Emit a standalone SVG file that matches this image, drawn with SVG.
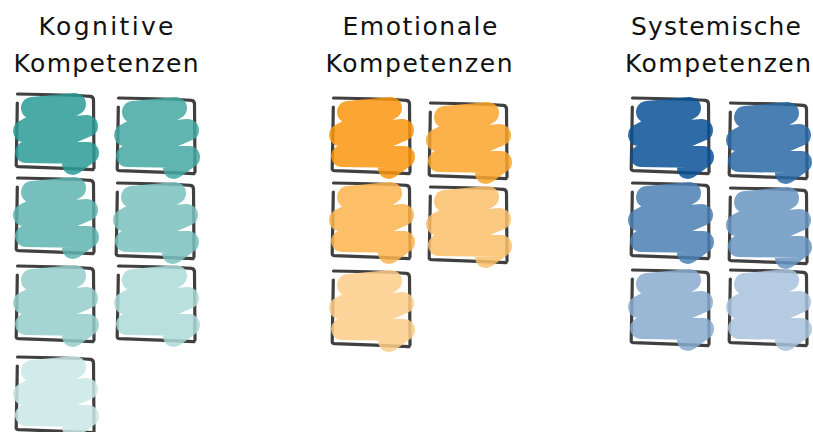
<svg xmlns="http://www.w3.org/2000/svg" xmlns:xlink="http://www.w3.org/1999/xlink" width="813" height="432" viewBox="0 0 813 432">
  <style>
    .title { font-family: "DejaVu Sans", "Noto Sans", sans-serif; font-size: 25px; fill: #111; text-anchor: middle; }
    .frame { fill: none; stroke: #404040; stroke-width: 3.2; stroke-linecap: round; stroke-linejoin: round; }
    .scribble { fill: none; stroke-width: 22; stroke-linecap: round; stroke-linejoin: round; opacity: 0.85; }
  </style>
  <defs>
    <!-- sketchy square outline, drawn as two strokes -->
    <g id="frame">
      <path class="frame" d="M0.5,0 C25,0.4 55,1 73.5,2.3 Q76.5,2.8 76.5,6 L77,74"/>
      <path class="frame" d="M0.3,9 C0,30 -0.3,52 -0.8,71 Q-0.6,72.4 1.5,72.6 C25,73.5 52,74.5 76,75.6"/>
    </g>
    <!-- zigzag scribble fill; colour comes from the using element -->
    <path id="scrib" class="scribble" d="M15,14 L58,10 L7,37 L70,32 L9,58 L71,59 L56,70"/>
  </defs>

  <!-- column titles -->
  <g id="title-kognitiv">
    <text class="title" x="106" y="35" textLength="135" lengthAdjust="spacing">Kognitive</text>
    <text class="title" x="106" y="72" textLength="185" lengthAdjust="spacing">Kompetenzen</text>
  </g>
  <g id="title-emotional">
    <text class="title" x="420" y="35" textLength="155" lengthAdjust="spacing">Emotionale</text>
    <text class="title" x="419" y="72" textLength="187" lengthAdjust="spacing">Kompetenzen</text>
  </g>
  <g id="title-systemisch">
    <text class="title" x="716" y="35" textLength="170" lengthAdjust="spacing">Systemische</text>
    <text class="title" x="718" y="72" textLength="186" lengthAdjust="spacing">Kompetenzen</text>
  </g>

  <!-- cognitive competences -->
  <g id="kog-1" transform="translate(17,94)"><use href="#frame"/><use href="#scrib" stroke="#2a9b96"/></g>
  <g id="kog-2" transform="translate(118,98)"><use href="#frame"/><use href="#scrib" stroke="#44a8a3"/></g>
  <g id="kog-3" transform="translate(17,178)"><use href="#frame"/><use href="#scrib" stroke="#5fb4b1"/></g>
  <g id="kog-4" transform="translate(117,183)"><use href="#frame"/><use href="#scrib" stroke="#79c1be"/></g>
  <g id="kog-5" transform="translate(17,266)"><use href="#frame"/><use href="#scrib" stroke="#94cecb"/></g>
  <g id="kog-6" transform="translate(118,266)"><use href="#frame"/><use href="#scrib" stroke="#aed9d9"/></g>
  <g id="kog-7" transform="translate(17,357)"><use href="#frame"/><use href="#scrib" stroke="#c9e6e6"/></g>

  <!-- emotional competences -->
  <g id="emo-1" transform="translate(333,98)"><use href="#frame"/><use href="#scrib" stroke="#fa960e"/></g>
  <g id="emo-2" transform="translate(430,103)"><use href="#frame"/><use href="#scrib" stroke="#faa42c"/></g>
  <g id="emo-3" transform="translate(333,183)"><use href="#frame"/><use href="#scrib" stroke="#fcb34c"/></g>
  <g id="emo-4" transform="translate(430,187)"><use href="#frame"/><use href="#scrib" stroke="#fcc06b"/></g>
  <g id="emo-5" transform="translate(333,271)"><use href="#frame"/><use href="#scrib" stroke="#fdce89"/></g>

  <!-- systemic competences -->
  <g id="sys-1" transform="translate(632,98)"><use href="#frame"/><use href="#scrib" stroke="#0a5298"/></g>
  <g id="sys-2" transform="translate(730,103)"><use href="#frame"/><use href="#scrib" stroke="#2a68a6"/></g>
  <g id="sys-3" transform="translate(632,183)"><use href="#frame"/><use href="#scrib" stroke="#4a7fb4"/></g>
  <g id="sys-4" transform="translate(730,188)"><use href="#frame"/><use href="#scrib" stroke="#6895c1"/></g>
  <g id="sys-5" transform="translate(632,270)"><use href="#frame"/><use href="#scrib" stroke="#88accf"/></g>
  <g id="sys-6" transform="translate(730,270)"><use href="#frame"/><use href="#scrib" stroke="#a8c2dd"/></g>
</svg>
